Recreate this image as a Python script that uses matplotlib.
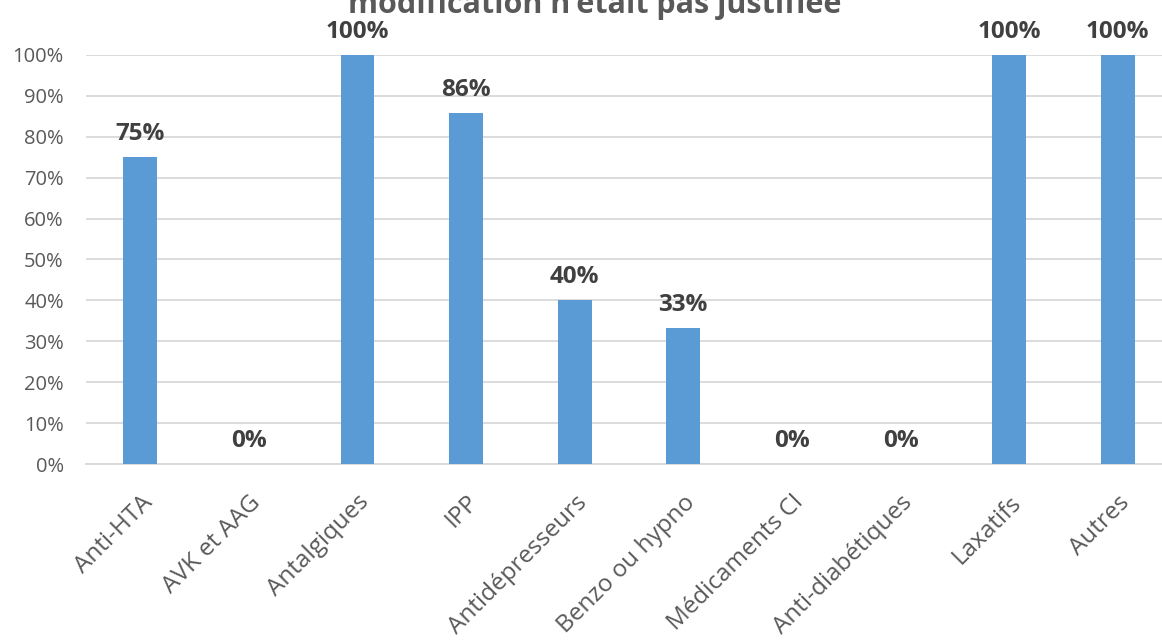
import matplotlib.pyplot as plt
from matplotlib.ticker import PercentFormatter

# ── Données ─────────────────────────────────────────────────────
categories = ["Anti-HTA", "AVK et AAG", "Antalgiques", "IPP", "Antidépresseurs",
              "Benzo ou hypno", "Médicaments CI", "Anti-diabétiques", "Laxatifs", "Autres"]
values = [75.0, 0.0, 100.0, 85.7, 40.0, 33.3, 0.0, 0.0, 100.0, 100.0]
value_labels = ["75%", "0%", "100%", "86%", "40%", "33%", "0%", "0%", "100%", "100%"]
yticks = [0, 10, 20, 30, 40, 50, 60, 70, 80, 90, 100]

BAR_COLOR = "#5B9BD5"
TEXT_GRAY = "#595959"
LABEL_DARK = "#404040"
GRID = "#D9D9D9"

plt.rcParams["font.family"] = ["Open Sans", "DejaVu Sans"]

W, H = 1162, 643
fig = plt.figure(figsize=(W / 100, H / 100), dpi=100)
# axes : x de 86 px à 1172 px (dépasse à droite), y de 464 à 55 px
ax = fig.add_axes([86 / W, 1 - 464 / H, (1172 - 86) / W, (464 - 55) / H])

x = range(len(categories))
ax.bar(x, values, width=0.31, color=BAR_COLOR, zorder=3)

for xi, v, lab in zip(x, values, value_labels):
    ax.annotate(lab, (xi, v), xytext=(0, 8), textcoords="offset points",
                ha="center", va="bottom", fontsize=17.5, fontweight="bold",
                color=LABEL_DARK, annotation_clip=False)

ax.set_xlim(-0.5, len(categories) - 0.5)
ax.set_ylim(0, 100)
ax.set_yticks(yticks)
ax.yaxis.set_major_formatter(PercentFormatter(decimals=0))
ax.grid(axis="y", color=GRID, linewidth=1.3, zorder=0)
ax.set_axisbelow(True)

ax.set_xticks(list(x))
ax.set_xticklabels(categories, rotation=45, ha="right", rotation_mode="anchor",
                   fontsize=17.5, color=TEXT_GRAY)
ax.tick_params(axis="y", labelsize=14.5, colors=TEXT_GRAY, length=0, pad=16)
ax.tick_params(axis="x", length=0, pad=19)

for side in ["top", "right", "left"]:
    ax.spines[side].set_visible(False)
ax.spines["bottom"].set_color(GRID)
ax.spines["bottom"].set_linewidth(1.3)

# titre coupé en haut de l'image
fig.text(595 / W, 1 - 13 / H, "modification n'était pas justifiée",
         ha="center", va="baseline", fontsize=22, fontweight="bold", color=TEXT_GRAY)

fig.savefig("out.png", dpi=100)
